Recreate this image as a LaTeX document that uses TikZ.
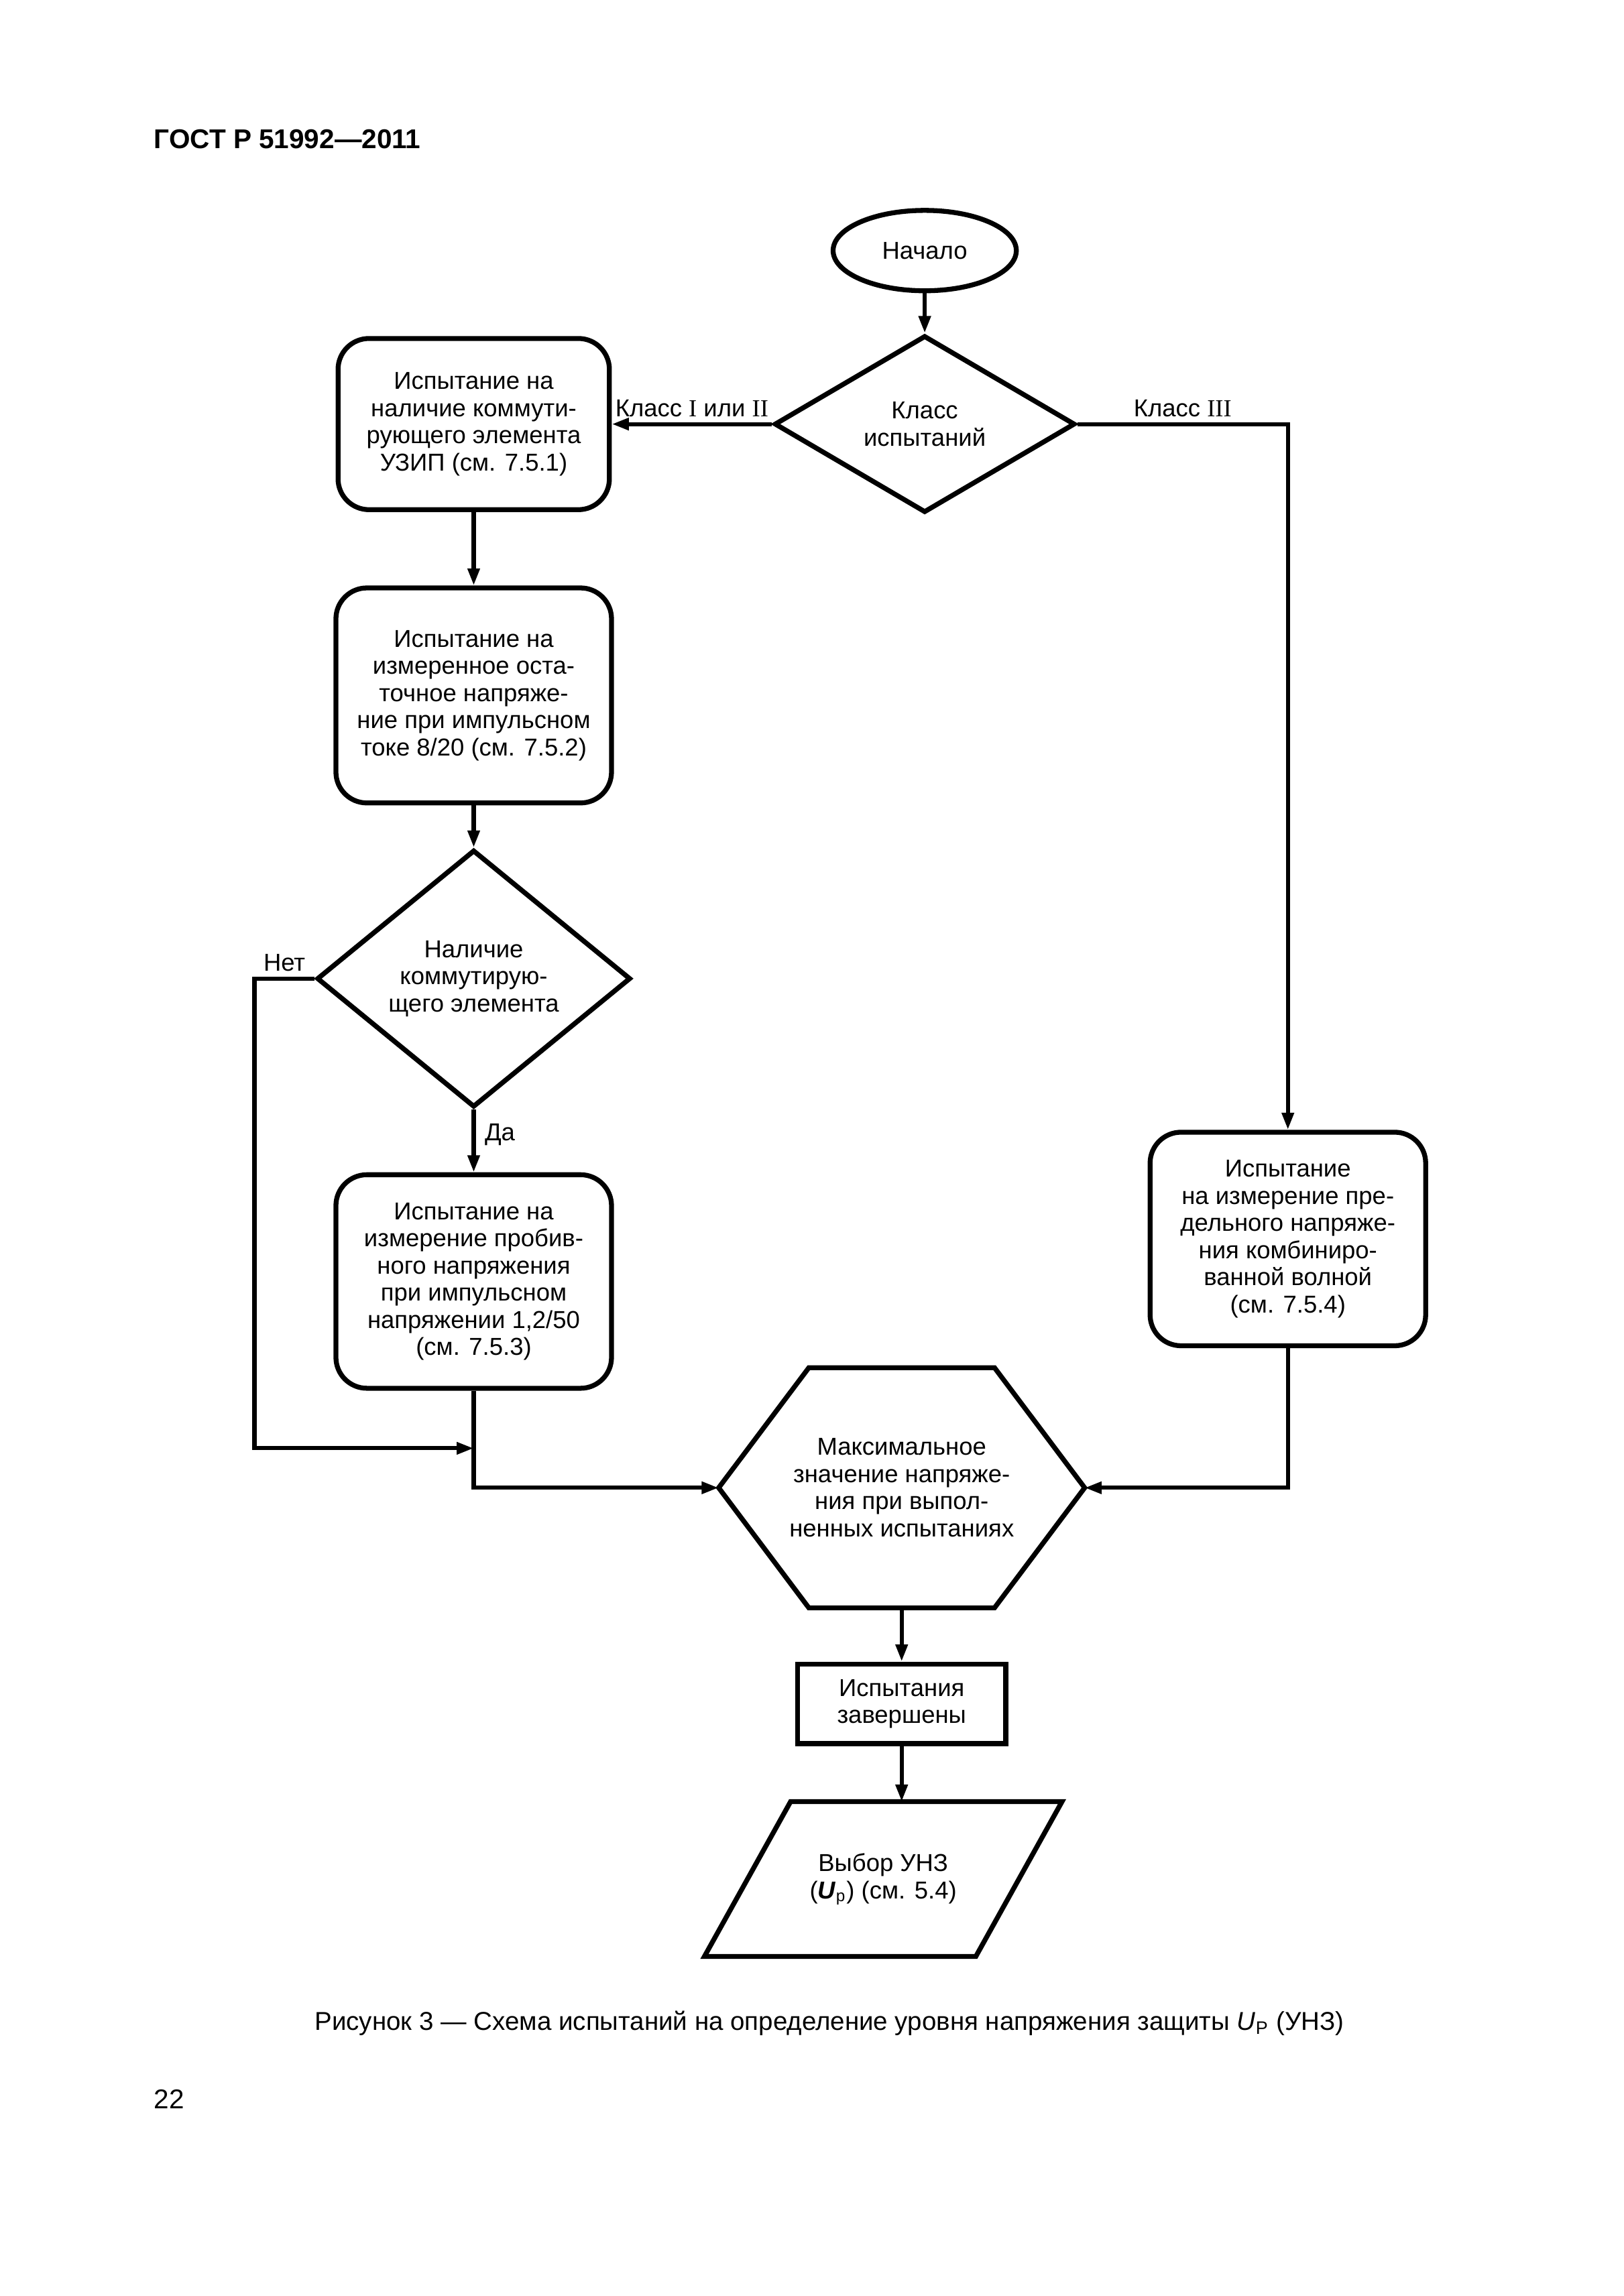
\documentclass[tikz,border=0pt]{standalone}
\usepackage{fontspec}
\setmainfont{Liberation Sans}
\newfontfamily\romfont{Liberation Serif}
\usetikzlibrary{arrows.meta,positioning,shapes.geometric}

\begin{document}
\begin{tikzpicture}[
    node distance=2cm,
    >={Triangle[length=2.2mm,width=1.5mm]},
    font=\fontsize{9}{10}\selectfont,
    test/.style={
		rectangle,
		rounded corners=0.4cm,
		draw=black,
		line width=1.8pt,
		align=center,
		minimum width=3.565cm,
		minimum height=2.763cm,
		inner sep=2pt
	},
	decision/.style={
		diamond,
		draw=black,
		line width=1.8pt,
		align=center,
		inner sep=1pt
	},
	outline/.style={
		line width=1.8pt,
		line join=miter
	},
	flow/.style={
		line width=1.5pt
	},
	branchlabel/.style={
		inner sep=2pt
	}
  ]
  \useasboundingbox (0,0) rectangle (21,-29.708);

  % header of the page
  \node [font=\fontsize{10}{12}\selectfont\bfseries, anchor=base west] (header) at (1.870,-1.917) {ГОСТ Р 51992—2011};

  % We start by placing the blocks
  \node [ellipse, draw=black, line width=1.8pt, minimum width=2.37cm, minimum height=1.04cm] (start) at (11.962,-3.242) {Начало};

  \node [decision, minimum width=3.89cm, minimum height=2.253cm, below of=start, node distance=2.245cm] (klass) {Класс\\испытаний};

  \node [test, minimum width=3.51cm, minimum height=2.215cm, left of=klass, node distance=5.834cm] (switchtest)
 {Испытание на\\наличие коммути-\\рующего элемента\\УЗИП (см. 7.5.1)};

  \node [test, minimum height=2.782cm, below of=switchtest, node distance=3.511cm] (residual)
 {Испытание на\\измеренное оста-\\точное напряже-\\ние при импульсном\\токе 8/20 (см. 7.5.2)};

  \node [decision, minimum width=4.06cm, minimum height=3.029cm, below of=residual, node distance=3.664cm] (hasswitch)
 {Наличие\\коммутирую-\\щего элемента};

  \node [test, below of=hasswitch, node distance=3.919cm] (sparkover)
 {Испытание на\\измерение пробив-\\ного напряжения\\при импульсном\\напряжении 1,2/50\\(см. 7.5.3)};

  \node [test, below of=klass, node distance=10.544cm, xshift=4.698cm] (combwave)
 {Испытание\\на измерение пре-\\дельного напряже-\\ния комбиниро-\\ванной волной\\(см. 7.5.4)};

  \node [align=center, minimum width=4.72cm, minimum height=3.093cm, below of=klass, node distance=13.763cm, xshift=-0.298cm] (maxval)
 {Максимальное\\значение напряже-\\ния при выпол-\\ненных испытаниях};
  \draw [outline] (maxval.west) -- ([xshift=1.166cm]maxval.north west) -- ([xshift=-1.166cm]maxval.north east)
    -- (maxval.east) -- ([xshift=-1.166cm]maxval.south east) -- ([xshift=1.166cm]maxval.south west) -- cycle;

  \node [rectangle, draw=black, line width=1.8pt, align=center, minimum width=2.692cm, minimum height=1.031cm, below of=maxval, node distance=2.795cm] (done)
 {Испытания\\завершены};

  \node [align=center, below of=done, node distance=2.268cm, xshift=-0.239cm] (choice)
 {Выбор УНЗ\\(\textbf{\textit{U}}\textsubscript{p}) (см. 5.4)};
  \draw [outline] ([shift={(-1.198,1.002)}]choice.center) -- ([shift={(2.313,1.002)}]choice.center)
    -- ([shift={(1.198,-1.002)}]choice.center) -- ([shift={(-2.313,-1.002)}]choice.center) -- cycle;
  \coordinate (choicetop) at ([yshift=1.002cm]choice.center);

  % connectors
  \draw [flow,->] (start) -- (klass);
  \draw [flow,->] (klass.west) -- node [above, branchlabel] {Класс {\romfont I} или {\romfont II}} (switchtest.east);
  \draw [flow,->] (klass.east) -- node [above, branchlabel] {Класс {\romfont III}} (klass.east -| combwave.north) -- (combwave.north);
  \draw [flow,->] (switchtest) -- (residual);
  \draw [flow,->] (residual) -- (hasswitch);
  \draw [flow,->] (hasswitch) -- node [right, pos=0.4] {Да} (sparkover);
  \coordinate (merge) at ([yshift=-0.745cm]sparkover.south);
  \draw [flow,->] (hasswitch.west) -- node [above, branchlabel] {Нет} ++(-0.775,0) |- (merge);
  \draw [flow,->] (sparkover.south) |- (maxval.west);
  \draw [flow,->] (combwave.south) |- (maxval.east);
  \draw [flow,->] (maxval.south) -- (done.north);
  \draw [flow,->] (done.south) -- (done.south |- choicetop);

  % caption and page number
  \node [font=\fontsize{9.5}{11}\selectfont, anchor=base west] (caption) at (3.948,-26.27)
 {Рисунок 3 — Схема испытаний на определение уровня напряжения защиты \textit{U}\textsubscript{P} (УНЗ)};
  \node [font=\fontsize{10}{12}\selectfont, anchor=base west] (page) at (1.870,-27.28) {22};

\end{tikzpicture}
\end{document}
